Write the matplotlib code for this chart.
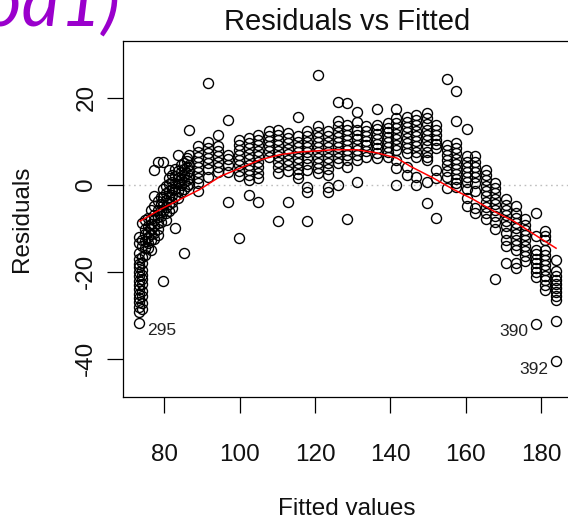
import matplotlib
matplotlib.use("Agg")
import matplotlib.pyplot as plt

# Fitted value shared by each vertical group of observations
group_fitted = [
    73.4, 74.1, 75.0, 75.8, 76.6, 77.4, 78.3, 79.2, 79.8, 80.6, 81.2, 82.1,
    82.9, 83.8, 84.6, 85.4, 86.1, 86.7, 89.0, 91.7, 94.3, 97.0, 99.9, 102.4,
    105.0, 107.7, 110.3, 112.8, 115.5, 117.9, 120.8, 123.4, 126.1, 128.5,
    131.1, 133.5, 136.4, 139.3, 141.5, 144.4, 146.8, 149.7, 152.1, 155.0,
    157.4, 160.3, 162.5, 165.3, 167.8, 170.6, 173.4, 175.8, 178.6, 181.1,
    183.8,
]

# Residuals of the observations in each group (same order as group_fitted)
group_residuals = [
    [-12.0, -13.4, -15.8, -17.1, -18.2, -19.0, -20.1, -21.0, -22.2, -23.1, -24.0, -25.2, -26.1, -27.0, -28.2, -29.3],
    [-8.8, -12.6, -14.1, -16.6, -17.9, -19.6, -20.7, -21.6, -22.9, -24.5, -25.6, -27.1, -28.6],
    [-8.2, -10.1, -11.4, -13.0, -14.6, -16.2],
    [-7.6, -9.4, -10.8, -12.1, -13.3, -14.5],
    [-5.9, -7.8, -9.1, -10.2, -11.3, -12.6, -15.1],
    [3.4, -2.6, -5.0, -6.9, -8.1, -9.6, -11.0, -12.4],
    [5.1, -3.8, -5.9, -7.4, -8.8, -10.1, -11.6],
    [-2.9, -4.5, -5.8, -7.2, -8.6],
    [5.1, -1.0, -2.8, -4.7, -6.1, -22.1],
    [-0.4, -2.0, -3.6, -5.1, -6.6, -8.2],
    [3.4, 1.6, 0.2, -1.4, -2.9, -4.4, -6.0],
    [2.1, 0.6, -0.9, -2.4, -3.9, -5.4],
    [3.6, 2.0, 0.4, -1.1, -2.6, -9.9],
    [6.9, 3.1, 1.6, 0.1, -1.5, -3.0],
    [4.4, 2.9, 1.4, -0.1, -1.6],
    [5.0, 3.6, 2.1, 0.6, -0.9, -15.7],
    [6.1, 5.5, 4.1, 2.6, 1.1, -0.4],
    [12.5, 6.8, 4.6, 3.1, 1.6, 0.2],
    [8.8, 7.6, 6.4, 5.2, 4.0, 2.8, 1.6, 0.4, -1.5],
    [23.3, 9.7, 8.5, 7.3, 6.1, 4.9, 3.6, 1.8],
    [11.5, 8.8, 7.7, 6.5, 5.3, 4.1, 2.8],
    [14.9, 6.9, 5.8, 4.6, 3.0, -4.1],
    [10.3, 9.1, 7.9, 6.8, 5.6, 4.4, 3.1, 1.9, -12.2],
    [10.7, 9.5, 8.3, 7.1, 5.9, 4.6, 3.4, 2.2, 1.1, -2.3],
    [11.5, 10.3, 9.1, 7.8, 6.6, 5.3, 4.0, 2.7, 1.5, -4.1],
    [12.3, 11.2, 10.0, 8.8, 7.7, 6.3],
    [12.6, 11.4, 10.2, 9.0, 7.8, 6.6, 5.3, 4.0, 2.7, -8.4],
    [11.9, 10.7, 9.5, 8.2, 7.0, 5.7, 4.4, 3.1, -4.1],
    [15.6, 11.1, 9.9, 8.7, 7.4, 6.2, 5.0, 3.7, 2.5, 1.5],
    [12.3, 11.1, 9.9, 8.7, 7.4, 6.2, 4.8, 3.4, -0.5, -1.6, -8.4],
    [25.1, 13.4, 12.2, 11.0, 9.8, 8.6, 7.4, 6.2, 5.0, 3.8, 2.7],
    [12.3, 11.1, 9.9, 8.7, 7.5, 6.2, 5.0, 3.7, 2.3, -0.5, -1.6],
    [19.0, 14.6, 13.4, 12.2, 11.0, 9.8, 8.6, 7.4, 6.2, 5.0, 0.0],
    [18.7, 13.8, 12.6, 11.4, 10.2, 9.0, 7.9, 6.8, 5.7, 4.1, -8.0],
    [16.7, 14.4, 12.6, 11.5, 10.4, 9.2, 8.0, 6.8, 5.7, 0.7],
    [13.4, 12.3, 11.2, 10.1, 9.0, 7.8, 6.4],
    [17.4, 13.8, 12.7, 11.6, 10.5, 9.4, 8.3, 7.2, 6.2],
    [14.2, 13.1, 12.0, 10.9, 9.8, 8.6, 7.5, 6.4],
    [17.4, 15.3, 14.1, 12.9, 11.7, 10.5, 9.2, 8.0, 5.7, 3.9, 0.0],
    [15.6, 14.4, 13.2, 12.0, 10.8, 9.6, 8.4, 7.3, 4.1, 2.3],
    [16.0, 14.8, 13.6, 12.4, 11.2, 10.0, 8.8, 7.6, 6.4, 1.8, 0.0],
    [16.4, 15.2, 13.9, 12.6, 11.4, 10.2, 8.9, 7.6, 6.4, 5.7, 0.5, -4.2],
    [13.8, 12.6, 11.4, 10.2, 9.3, 8.4, 3.4, 1.6, -7.7],
    [24.3, 9.2, 8.0, 6.8, 5.6, 4.4, 3.1, 1.8, -0.7],
    [21.4, 14.6, 9.6, 8.4, 7.2, 6.0, 4.8, 3.6, 2.4, 1.2, 0.4, -0.5],
    [12.8, 6.5, 5.3, 4.1, 2.9, 1.7, 0.5, -1.1, -3.0, -5.0],
    [6.5, 5.3, 4.1, 2.9, 1.7, 0.4, -1.5, -5.3, -6.4],
    [3.4, 2.2, 1.0, -0.2, -1.4, -2.6, -3.9, -5.2, -6.6, -8.0],
    [0.4, -0.8, -2.0, -3.2, -4.5, -5.8, -7.1, -8.6, -10.3, -21.6],
    [-3.4, -4.6, -5.8, -7.0, -8.3, -9.6, -11.0, -12.6, -14.2, -18.0],
    [-5.0, -6.4, -7.6, -8.8, -10.0, -11.3, -12.6, -13.8, -15.0, -17.9, -19.1],
    [-8.0, -9.2, -10.4, -11.6, -12.8, -14.0, -15.2, -16.3, -17.5],
    [-6.5, -11.9, -14.9, -16.0, -17.1, -18.1, -19.1, -20.1, -21.1],
    [-10.7, -11.7, -12.6, -14.9, -16.1, -17.3, -18.5, -19.7, -20.9, -22.0, -23.1, -24.1],
    [-17.2, -19.9, -20.9, -21.9, -22.9, -23.8, -24.7, -25.6, -26.4, -31.4],
]

# The three most extreme observations, labelled by row number
id_labels = ["295", "390", "392"]
id_fitted = [73.4, 178.6, 183.8]
id_residuals = [-31.8, -32.0, -40.6]

# Scatter smoother of residuals against fitted values
smooth_fitted = [73.6, 79.0, 84.2, 89.5, 94.9, 100.2, 105.5, 110.8, 116.1, 124.8,
                 131.1, 136.4, 141.7, 145.3, 151.4, 156.7, 162.0, 167.4, 172.7,
                 179.7, 183.9]
smooth_residuals = [-8.4, -5.7, -3.4, -1.1, 1.9, 3.8, 5.7, 6.9, 7.5, 8.0,
                    8.0, 7.3, 6.1, 4.2, 1.5, -1.1, -3.4, -6.1, -8.4,
                    -12.3, -14.6]

x_ticks = [80, 100, 120, 140, 160, 180]
y_ticks = [-40, -20, 0, 20]

plt.rcParams["font.family"] = ["Liberation Sans", "DejaVu Sans"]

W, H = 568, 521
fig = plt.figure(figsize=(W / 100, H / 100), dpi=100)

ax_left, ax_right, ax_top, ax_bottom = 123.3, 570.0, 40.5, 396.7
ax = fig.add_axes([ax_left / W, 1 - ax_bottom / H,
                   (ax_right - ax_left) / W, (ax_bottom - ax_top) / H])

fitted = []
residuals = []
for fx, ys in zip(group_fitted, group_residuals):
    for y in ys:
        fitted.append(fx)
        residuals.append(y)
fitted += id_fitted
residuals += id_residuals

ax.axhline(0, color="#bebebe", lw=1.0, ls=(0, (1.2, 2.6)), zorder=1)
ax.plot(fitted, residuals, ls="none", marker="o", ms=7.2, mfc="none",
        mec="black", mew=1.0, zorder=2)
ax.plot(smooth_fitted, smooth_residuals, color="red", lw=1.1, zorder=3)

for lab, fx, ry in zip(id_labels, id_fitted, id_residuals):
    left_side = fx < 130
    ax.annotate(lab, (fx, ry), xytext=(5.6 if left_side else -5.6, -5.6),
                textcoords="offset points", ha="left" if left_side else "right",
                va="center", fontsize=12.5, color="#222222")

ax.set_xlim(69.2, 187.6)
ax.set_ylim(-48.7, 33.1)
ax.set_xticks(x_ticks)
ax.set_yticks(y_ticks)
ax.set_xticklabels([str(t) for t in x_ticks])
ax.set_yticklabels([str(t) for t in y_ticks], rotation=90, va="center")

for sp in ax.spines.values():
    sp.set_linewidth(0.9)
ax.tick_params(axis="both", direction="out", length=11.7, width=0.9,
               labelsize=17.5, color="black", labelcolor="#111111")
ax.tick_params(axis="x", pad=22.5)
ax.tick_params(axis="y", pad=7)

ax.set_xlabel("Fitted values", fontsize=17.5, color="#111111")
ax.xaxis.set_label_coords(0.5, -(509 - ax_bottom) / (ax_bottom - ax_top))
ax.xaxis.label.set_va("center")
ax.set_ylabel("Residuals", fontsize=17.5, color="#111111")
ax.yaxis.set_label_coords(-(ax_left - 21.7) / (ax_right - ax_left), 0.5)
ax.yaxis.label.set_va("center")

ax.text(0.5, 1 + (ax_top - 22) / (ax_bottom - ax_top), "Residuals vs Fitted",
        transform=ax.transAxes, ha="center", va="center", fontsize=21,
        color="#111111")

fig.text(121 / W, 1 - 26 / H, "plot(mod1)", ha="right", va="baseline",
         fontsize=52, color="#9a00cc", family="Lato", style="italic",
         weight="normal")

fig.savefig("out.png", dpi=100)
